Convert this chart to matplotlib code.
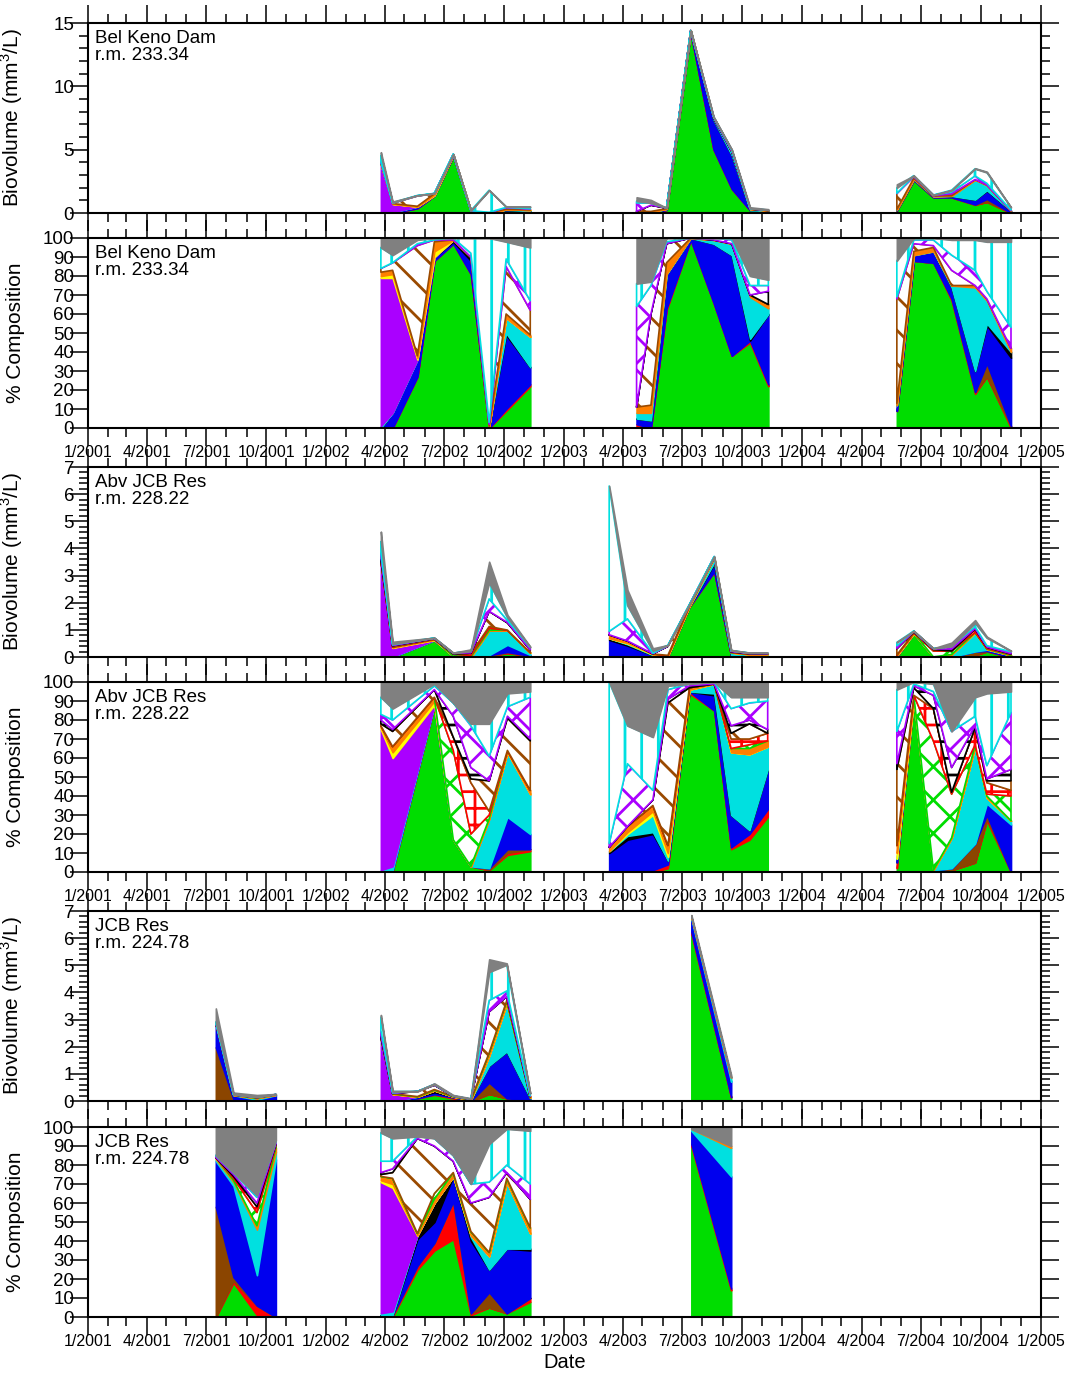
import numpy as np
import matplotlib
matplotlib.use("Agg")
import matplotlib.pyplot as plt
import matplotlib.dates as mdates
from matplotlib.ticker import MultipleLocator, FuncFormatter
from datetime import datetime

plt.rcParams['font.family'] = ['Liberation Sans', 'DejaVu Sans']
plt.rcParams['mathtext.fontset'] = 'custom'
plt.rcParams['mathtext.rm'] = 'Liberation Sans'
plt.rcParams['hatch.linewidth'] = 2.0

# ---------------- Bel Keno Dam, r.m. 233.34 ----------------
bk_dates = ['2002-03-26', '2002-04-13', '2002-05-21', '2002-06-16', '2002-07-15', '2002-08-11',
            '2002-09-08', '2002-10-04', '2002-11-10',
            '2003-04-22', '2003-05-14', '2003-06-07', '2003-07-14', '2003-08-18', '2003-09-15',
            '2003-10-13', '2003-11-10',
            '2004-05-25', '2004-06-20', '2004-07-20', '2004-08-17', '2004-09-22', '2004-10-10',
            '2004-11-16']
bk_total = [4.8, 0.9, 1.4, 1.55, 4.65, 0.2, 1.8, 0.5, 0.5,
            1.24, 1.03, 0.4, 14.4, 7.6, 5.0, 0.45, 0.3,
            2.26, 2.95, 1.42, 1.82, 3.53, 3.26, 0.45]
# percent composition per group
bk_green = [0, 0, 27, 88, 97, 81, 0, 9, 22, 0, 0, 62, 99, 66, 38, 45, 22, 9, 88, 87, 67, 18, 27, 0]
bk_red = [0, 0, 0, 0, 0, 0, 0, 1, 1, 2, 0, 1, 0, 0, 0, 1, 1, 0, 0, 0, 1, 1, 0, 1]
bk_brown = [0, 0, 0, 0, 0, 0, 0, 0, 0, 0, 0, 0, 0, 0, 0, 0, 0, 0, 0, 0, 0, 0, 7, 0]
bk_blue = [0, 8, 9, 2, 1, 7, 1, 39, 9, 3, 4, 18, 1, 31, 53, 0, 37, 3, 3, 6, 6, 11, 20, 36]
bk_black = [0, 0, 0, 0, 1, 2, 0, 1, 0, 0, 0, 0, 0, 0, 0, 1, 0, 0, 0, 0, 0, 0, 1, 3]
bk_cyan = [1, 0, 0, 0, 0, 0, 0, 8, 16, 3, 4, 0, 0, 2, 6, 22, 3, 0, 0, 0, 1, 44, 12, 0]
bk_purple = [78, 71, 0, 0, 0, 0, 0, 0, 0, 0, 0, 0, 0, 0, 0, 0, 0, 0, 0, 0, 0, 0, 0, 0]
bk_yellow = [1, 2, 1, 3, 0, 0, 0, 0, 0, 0, 0, 0, 0, 0, 0, 0, 0, 0, 0, 0, 0, 0, 0, 0]
bk_orange = [2, 2, 1, 5, 0, 0, 0, 2, 1, 3, 4, 6, 0, 0, 0, 1, 2, 1, 2, 2, 0, 1, 1, 2]
bk_green_x = [0] * 24
bk_red_plus = [0] * 24
bk_brown_diag = [2, 4, 58, 1, 0, 0, 1, 25, 13, 0, 48, 10, 0, 0, 0, 0, 0, 55, 4, 1, 8, 0, 0, 0]
bk_black_hz = [0, 0, 0, 0, 0, 0, 0, 0, 0, 0, 0, 0, 0, 0, 0, 0, 7, 0, 0, 0, 0, 0, 0, 0]
bk_purple_x = [0, 0, 1, 0, 1, 2, 1, 4, 5, 53, 15, 1, 0, 1, 2, 5, 3, 1, 2, 3, 8, 8, 4, 11]
bk_cyan_vt = [11, 4, 2, 1, 0, 8, 97, 9, 28, 12, 2, 2, 0, 0, 1, 5, 3, 19, 1, 1, 8, 16, 26, 45]
bk_gray = [5, 9, 1, 0, 0, 0, 0, 2, 5, 24, 23, 0, 0, 0, 0, 20, 22, 12, 0, 0, 1, 1, 2, 2]

# ---------------- Abv JCB Res, r.m. 228.22 ----------------
aj_dates = ['2002-03-26', '2002-04-13', '2002-06-16', '2002-07-15', '2002-08-11', '2002-09-08',
            '2002-10-06', '2002-11-10',
            '2003-03-11', '2003-04-08', '2003-05-17', '2003-06-09', '2003-07-12', '2003-08-19',
            '2003-09-14', '2003-10-12', '2003-11-09',
            '2004-05-25', '2004-06-20', '2004-07-20', '2004-08-17', '2004-09-22', '2004-10-10',
            '2004-11-16']
aj_total = [4.62, 0.56, 0.71, 0.16, 0.28, 3.51, 1.55, 0.38,
            6.3, 2.47, 0.32, 0.44, 1.95, 3.7, 0.26, 0.16, 0.16,
            0.56, 0.96, 0.32, 0.53, 1.36, 0.75, 0.23]
aj_green = [0, 0, 87, 17, 3, 1, 9, 11, 0, 0, 0, 2, 94, 85, 12, 17, 29, 2, 90, 1, 1, 5, 27, 0]
aj_red = [0, 1, 1, 0, 0, 0, 1, 1, 1, 0, 1, 2, 1, 0, 1, 3, 4, 3, 1, 0, 0, 0, 1, 0]
aj_brown = [0, 0, 0, 0, 0, 1, 2, 0, 0, 0, 0, 0, 0, 0, 0, 0, 0, 0, 0, 0, 1, 10, 2, 0]
aj_blue = [0, 0, 0, 0, 0, 0, 17, 8, 9, 17, 19, 2, 0, 8, 17, 2, 21, 2, 0, 0, 0, 0, 6, 25]
aj_black = [0, 0, 0, 0, 0, 0, 0, 0, 1, 2, 1, 0, 0, 1, 0, 0, 0, 0, 0, 0, 0, 0, 0, 0]
aj_cyan = [1, 2, 0, 0, 0, 26, 34, 21, 0, 1, 9, 2, 1, 5, 33, 40, 12, 0, 0, 0, 16, 51, 3, 2]
aj_purple = [74, 57, 0, 0, 0, 0, 0, 0, 0, 0, 0, 0, 0, 0, 0, 0, 0, 0, 0, 0, 0, 0, 0, 0]
aj_yellow = [1, 3, 2, 0, 0, 0, 0, 0, 0, 1, 2, 2, 0, 0, 0, 0, 0, 3, 0, 0, 0, 0, 0, 0]
aj_orange = [1, 3, 2, 0, 0, 0, 1, 2, 2, 3, 3, 4, 1, 0, 2, 3, 3, 4, 2, 0, 0, 1, 1, 0]
aj_green_x = [0, 0, 0, 47, 17, 2, 0, 0, 0, 0, 0, 0, 0, 0, 0, 2, 0, 0, 0, 68, 23, 0, 1, 13]
aj_red_plus = [0, 0, 0, 7, 27, 2, 0, 0, 0, 0, 0, 0, 0, 0, 5, 3, 4, 0, 0, 17, 1, 9, 6, 3]
aj_brown_diag = [1, 8, 4, 0, 2, 16, 17, 26, 0, 0, 3, 75, 0, 0, 3, 8, 0, 40, 4, 0, 0, 0, 1, 5]
aj_black_hz = [2, 1, 0, 11, 6, 0, 1, 1, 0, 0, 0, 2, 1, 0, 4, 2, 2, 3, 1, 7, 13, 1, 1, 6]
aj_purple_x = [3, 5, 2, 7, 22, 13, 5, 22, 2, 33, 5, 5, 1, 1, 9, 9, 15, 17, 1, 2, 19, 5, 7, 30]
aj_cyan_vt = [9, 6, 1, 0, 1, 17, 7, 3, 85, 20, 28, 2, 0, 0, 6, 3, 2, 22, 1, 4, 0, 10, 38, 11]
aj_gray = [8, 14, 1, 11, 22, 22, 6, 5, 0, 23, 29, 2, 1, 0, 8, 8, 8, 4, 0, 1, 26, 8, 6, 5]

# ---------------- JCB Res, r.m. 224.78 ----------------
jc_dates = ['2001-07-16', '2001-08-12', '2001-09-17', '2001-10-16',
            '2002-03-26', '2002-04-13', '2002-05-21', '2002-06-16', '2002-07-15', '2002-08-11',
            '2002-09-08', '2002-10-05', '2002-11-10',
            '2003-07-15', '2003-09-14']
jc_total = [3.41, 0.31, 0.22, 0.26,
            3.17, 0.37, 0.37, 0.65, 0.22, 0.1, 5.22, 5.07, 0.28,
            6.85, 0.96]
jc_green = [0, 18, 1, 0, 0, 0, 25, 35, 41, 1, 5, 2, 8, 90, 14]
jc_red = [0, 1, 5, 0, 1, 1, 2, 4, 20, 1, 0, 0, 2, 1, 1]
jc_brown = [58, 2, 0, 0, 0, 0, 0, 0, 0, 0, 8, 0, 0, 0, 0]
jc_blue = [24, 48, 16, 83, 0, 0, 14, 11, 13, 38, 12, 34, 25, 7, 59]
jc_black = [0, 0, 0, 0, 0, 0, 2, 10, 0, 2, 0, 0, 1, 0, 0]
jc_cyan = [1, 2, 24, 4, 1, 2, 0, 0, 0, 1, 7, 35, 8, 1, 15]
jc_purple = [0, 0, 0, 0, 69, 65, 0, 0, 0, 0, 0, 0, 0, 0, 0]
jc_yellow = [0, 0, 0, 0, 1, 2, 0, 0, 0, 0, 0, 0, 0, 0, 0]
jc_orange = [1, 1, 2, 2, 2, 3, 1, 2, 2, 2, 2, 2, 3, 0, 1]
jc_green_x = [0, 1, 7, 1, 0, 0, 0, 3, 0, 0, 0, 0, 0, 0, 0]
jc_red_plus = [0, 1, 3, 1, 0, 0, 0, 0, 0, 0, 0, 0, 0, 0, 0]
jc_brown_diag = [0, 0, 0, 0, 1, 3, 50, 25, 6, 15, 29, 3, 15, 0, 0]
jc_black_hz = [0, 1, 2, 0, 1, 2, 0, 0, 0, 0, 0, 0, 0, 0, 0]
jc_purple_x = [1, 1, 3, 1, 6, 4, 1, 4, 3, 10, 8, 4, 8, 0, 0]
jc_cyan_vt = [0, 0, 1, 1, 15, 12, 0, 0, 0, 0, 20, 19, 28, 0, 0]
jc_gray = [15, 24, 36, 7, 3, 6, 5, 6, 15, 30, 9, 1, 2, 1, 10]

# stacking order (bottom -> top) and look of each group
order = ['green', 'red', 'brown', 'blue', 'black', 'cyan', 'purple', 'yellow', 'orange',
         'green_x', 'red_plus', 'brown_diag', 'black_hz', 'purple_x', 'cyan_vt', 'gray']
look = {
    'green': ('#00dd00', '#00dd00', None),
    'red': ('#ff0000', '#ff0000', None),
    'brown': ('#8b4500', '#8b4500', None),
    'blue': ('#0000ee', '#0000ee', None),
    'black': ('#000000', '#000000', None),
    'cyan': ('#00e0e0', '#00e0e0', None),
    'purple': ('#aa00ff', '#aa00ff', None),
    'yellow': ('#ffff00', '#ffff00', None),
    'orange': ('#ff7f00', '#ff7f00', None),
    'green_x': ('white', '#00dd00', 'x'),
    'red_plus': ('white', '#ff0000', '+'),
    'brown_diag': ('white', '#9a4a00', '\\'),
    'black_hz': ('white', '#000000', '-'),
    'purple_x': ('white', '#aa00ff', 'x'),
    'cyan_vt': ('white', '#00e0e0', '|'),
    'gray': ('#808080', '#808080', None),
}


def layers(prefix):
    g = globals()
    return {k: g[prefix + '_' + k] for k in order}


sites = [
    ('Bel Keno Dam\nr.m. 233.34', bk_dates, bk_total, layers('bk'), 15, 5, 1),
    ('Abv JCB Res\nr.m. 228.22', aj_dates, aj_total, layers('aj'), 7, 1, 0.2),
    ('JCB Res\nr.m. 224.78', jc_dates, jc_total, layers('jc'), 7, 1, 0.2),
]


def draw(ax, dates, total, lay, percent):
    x = np.array(dates, dtype='datetime64[D]')
    v = np.array([lay[k] for k in order], float)
    v = v / v.sum(axis=0) * 100
    if not percent:
        v = v * np.array(total) / 100
    brk = np.where(np.diff(x).astype(int) > 90)[0] + 1
    for seg in np.split(np.arange(len(x)), brk):
        base = np.zeros(len(seg))
        for k, row in zip(order, v[:, seg]):
            top = base + row
            if row.max() > 0:
                fc, ec, hatch = look[k]
                ax.fill_between(x[seg], base, top, facecolor=fc, edgecolor=ec,
                                hatch=hatch, linewidth=1.2)
            base = top


def fmt_date(val, pos):
    d = mdates.num2date(val)
    return f"{d.month}/{d.year}"


fig = plt.figure(figsize=(10.65, 13.75), dpi=100)
W, Hh = 1065, 1375
tops = [23, 238, 467, 682, 911, 1127]
ph = 190

for i, (name, dates, total, lay, ymax, major, minor) in enumerate(sites):
    for j, percent in enumerate([False, True]):
        t = tops[2 * i + j]
        ax = fig.add_axes([88 / W, 1 - (t + ph) / Hh, 953 / W, ph / Hh])
        draw(ax, dates, total, lay, percent)
        ax.set_xlim(datetime(2001, 1, 1), datetime(2005, 1, 1))
        ax.xaxis.set_major_locator(mdates.MonthLocator([1, 4, 7, 10]))
        ax.xaxis.set_minor_locator(mdates.MonthLocator())
        ax.xaxis.set_major_formatter(FuncFormatter(fmt_date))
        if percent:
            ax.set_ylim(0, 100)
            ax.yaxis.set_major_locator(MultipleLocator(10))
            ax.set_ylabel('% Composition', fontsize=15)
        else:
            ax.set_ylim(0, ymax)
            ax.yaxis.set_major_locator(MultipleLocator(major))
            ax.yaxis.set_minor_locator(MultipleLocator(minor))
            ax.set_ylabel('Biovolume (mm$^3$/L)', fontsize=15)
        ax.yaxis.set_label_coords(-0.066, 0.5)
        ax.tick_params(which='both', direction='out', top=True, bottom=True,
                       left=True, right=True, width=1.1, color='black')
        ax.tick_params(which='major', length=13)
        ax.tick_params(which='minor', length=6.5)
        ax.tick_params(axis='y', labelsize=13.5, pad=-3)
        ax.tick_params(axis='x', labelsize=11.5, pad=-1, labelbottom=percent)
        for s in ax.spines.values():
            s.set_linewidth(1.5)
        ax.text(0.007, 0.965, name, transform=ax.transAxes, fontsize=13.5,
                va='top', ha='left', linespacing=1.0)
        if i == 2 and percent:
            ax.set_xlabel('Date', fontsize=14.5, labelpad=3)

fig.savefig('out.png', dpi=100)
